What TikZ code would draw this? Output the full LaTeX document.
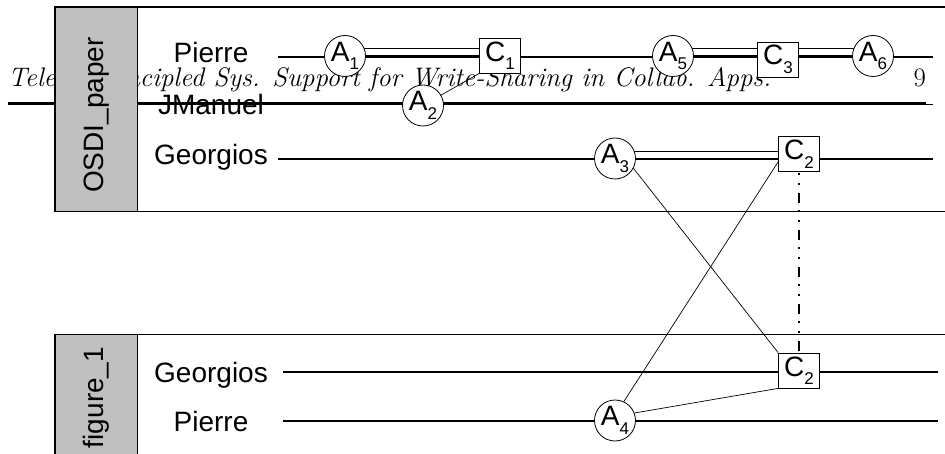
\documentclass[tikz,border=0pt]{standalone}
\usepackage{fontspec}
\newfontfamily\arialfam{Liberation Sans}
\usetikzlibrary{backgrounds,calc}
\definecolor{boxgray}{RGB}{192,192,192}
\newcommand{\withsub}[2]{#1\raisebox{-8.5pt}{\fontsize{17}{17}\selectfont #2}}
\tikzset{
  lbl/.style={font=\arialfam\fontsize{28}{28}\selectfont, anchor=base, inner sep=0pt},
  act/.style={circle, draw, line width=0.8pt, fill=white, minimum size=41pt, inner sep=0pt, font=\arialfam\fontsize{28}{28}\selectfont},
  cmt/.style={rectangle, draw, line width=0.8pt, fill=white, minimum width=41pt, minimum height=35pt, inner sep=0pt, font=\arialfam\fontsize{28}{28}\selectfont},
  frameline/.style={line width=1.6pt},
  timeline/.style={line width=1.6pt},
  link/.style={line width=0.7pt},
  dbl/.style={draw=black, line width=0.9pt, double=white, double distance=6.5pt},
  dep/.style={line width=2.2pt, dash pattern=on 10pt off 7pt on 2pt off 8pt on 2pt off 8pt, dash phase=16pt},
  hdrfont/.style={font=\fontsize{26.8}{27}\selectfont},
}
\begin{document}
\begin{tikzpicture}[x=1pt,y=-1pt]
\useasboundingbox (0,0) rectangle (945,454);
% participant labels
\node[lbl] (pierreT) at (211,63) {Pierre};
\node[lbl] (jmanuel) at (211,115) {JManuel};
\node[lbl] (georgiosT) at (211,165) {Georgios};
\node[lbl] (georgiosB) at (211,382) {Georgios};
\node[lbl] (pierreB) at (211,431.5) {Pierre};
\node[lbl, rotate=90] (osdi) at (103.5,115) {OSDI\_paper};
\node[lbl, rotate=90] (fig) at (103.5,397.5) {figure\_1};
% actions and constraints
\node[act] (A1) at (345,56) {\withsub{A}{1}};
\node[cmt] (C1) at (500,55.5) {\withsub{C}{1}};
\node[act] (A2) at (423,105.5) {\withsub{A}{2}};
\node[act] (A5) at (673,56) {\withsub{A}{5}};
\node[cmt] (C3) at (778,59.5) {\withsub{C}{3}};
\node[act] (A6) at (873,56) {\withsub{A}{6}};
\node[act] (A3) at (615,158.5) {\withsub{A}{3}};
\node[cmt] (C2t) at (799,154) {\withsub{C}{2}};
\node[cmt] (C2b) at (799,370.5) {\withsub{C}{2}};
\node[act] (A4) at (615,420.5) {\withsub{A}{4}};
% timeline ends
\coordinate (hs) at (8,103.4); \coordinate (he) at (926,103.4);
\coordinate (pTs) at (278,57); \coordinate (pTe) at (933,57);
\coordinate (jTs) at (278,104.5); \coordinate (jTe) at (933,104.5);
\coordinate (gTs) at (278,159); \coordinate (gTe) at (933,159);
\coordinate (gBs) at (283,372); \coordinate (gBe) at (938,372);
\coordinate (pBs) at (283,421); \coordinate (pBe) at (938,421);
\begin{pgfonlayer}{background}
\node[anchor=base west, inner sep=0pt, hdrfont] (hdr) at (8,86.5) {\itshape Telex: Principled Sys. Support for Write-Sharing in Collab. Apps.};
\node[anchor=base east, inner sep=0pt, hdrfont] (pgno) at (926,86.5) {9};
\draw[line width=3.3pt] (hs) -- (he);
\draw[frameline] (945,7) -- (55,7) -- (55,211.5) -- (945,211.5);
\filldraw[frameline, fill=boxgray] (55,7) rectangle (137.3,211.5);
\draw[frameline] (945,334.5) -- (55,334.5) -- (55,460);
\filldraw[frameline, fill=boxgray] (55,334.5) rectangle (137.3,460);
\draw[timeline] (pTs) -- (pTe);
\draw[timeline] (jTs) -- (jTe);
\draw[timeline] (gTs) -- (gTe);
\draw[timeline] (gBs) -- (gBe);
\draw[timeline] (pBs) -- (pBe);
\draw[dbl] ($(A1.center)+(0,-4)$) -- ($(C1.center)+(0,-3.5)$);
\draw[dbl] ($(A5.center)+(0,-4)$) -- ($(C3.center)+(0,-7.5)$);
\draw[dbl] ($(C3.center)+(0,-7.5)$) -- ($(A6.center)+(0,-4)$);
\draw[dbl] ($(A3.center)+(0,-3.5)$) -- ($(C2t.center)+(0,1)$);
\draw[link] (A2.center) -- (C1.south west);
\draw[link] (A3.-28) -- (C2b.north west);
\draw[link] (A4.65) -- ($(C2t.south west)+(0,-10)$);
\draw[link] (A4.21) -- (C2b.south west);
\draw[dep] (C2t.south) -- (C2b.north);
\end{pgfonlayer}
\end{tikzpicture}
\end{document}
